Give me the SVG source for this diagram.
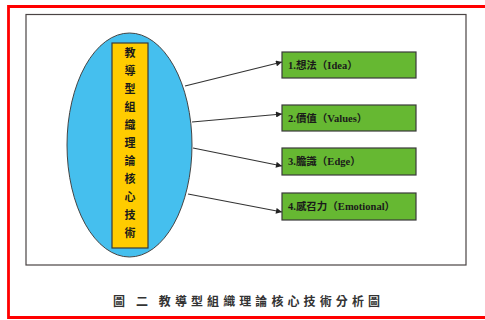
<svg xmlns="http://www.w3.org/2000/svg" width="485" height="320" viewBox="0 0 485 320">
<style>
.box{fill:#66b832;stroke:#3a3a3a;stroke-width:1.2}
.lbl{font-family:"Liberation Serif","Noto Sans CJK TC",serif;font-size:10.5px;font-weight:bold;fill:#1a1a1a}
.vt{font-family:"Noto Sans CJK TC",sans-serif;font-size:11px;font-weight:bold;fill:#1a1a1a;text-anchor:middle}
.conn{stroke:#333;stroke-width:1.2;fill:none;marker-end:url(#ah)}
</style>
<defs>
<marker id="ah" viewBox="0 0 10 10" refX="10" refY="5" markerWidth="7" markerHeight="6" orient="auto" markerUnits="userSpaceOnUse">
<path d="M0,0 L10,5 L0,10 z" fill="#222"/>
</marker>
</defs>
<rect x="0" y="0" width="485" height="320" fill="#fff"/>
<path d="M490,6.5 H8.5 V317.5 H490" fill="none" stroke="#ff0000" stroke-width="2.8"/>
<rect x="26" y="14.5" width="440" height="250.5" fill="none" stroke="#4a4444" stroke-width="1.2"/>
<g id="center">
<ellipse cx="129.5" cy="145" rx="62.5" ry="112" fill="#45bfee" stroke="#444" stroke-width="1"/>
<rect x="112" y="43" width="36" height="205" fill="#ffcc00" stroke="#3a3a3a" stroke-width="1.2"/>
<text class="vt" x="130">
<tspan x="130" y="57">教</tspan><tspan x="130" y="75">導</tspan><tspan x="130" y="93">型</tspan><tspan x="130" y="111">組</tspan><tspan x="130" y="129">織</tspan><tspan x="130" y="147">理</tspan><tspan x="130" y="165">論</tspan><tspan x="130" y="183">核</tspan><tspan x="130" y="201">心</tspan><tspan x="130" y="219">技</tspan><tspan x="130" y="237">術</tspan>
</text>
</g>
<g id="connectors">
<line class="conn" x1="185" y1="86" x2="282" y2="62"/>
<line class="conn" x1="192" y1="122" x2="282" y2="114"/>
<line class="conn" x1="193" y1="148" x2="282" y2="166"/>
<line class="conn" x1="188" y1="194" x2="282" y2="212"/>
</g>
<g id="n1"><rect class="box" x="282" y="52" width="134" height="26"/><text class="lbl" x="288" y="69">1.想法（Idea）</text></g>
<g id="n2"><rect class="box" x="282" y="105" width="134" height="26"/><text class="lbl" x="288" y="122">2.價值（Values）</text></g>
<g id="n3"><rect class="box" x="282" y="148" width="134" height="27"/><text class="lbl" x="288" y="165">3.膽識（Edge）</text></g>
<g id="n4"><rect class="box" x="282" y="193" width="134" height="27"/><text class="lbl" x="288" y="210">4.感召力（Emotional）</text></g>
<text x="113" y="306" textLength="267" lengthAdjust="spacing" style="font-family:'Noto Sans CJK TC',sans-serif;font-size:12px;font-weight:bold;fill:#333">圖 二 教導型組織理論核心技術分析圖</text>
</svg>
